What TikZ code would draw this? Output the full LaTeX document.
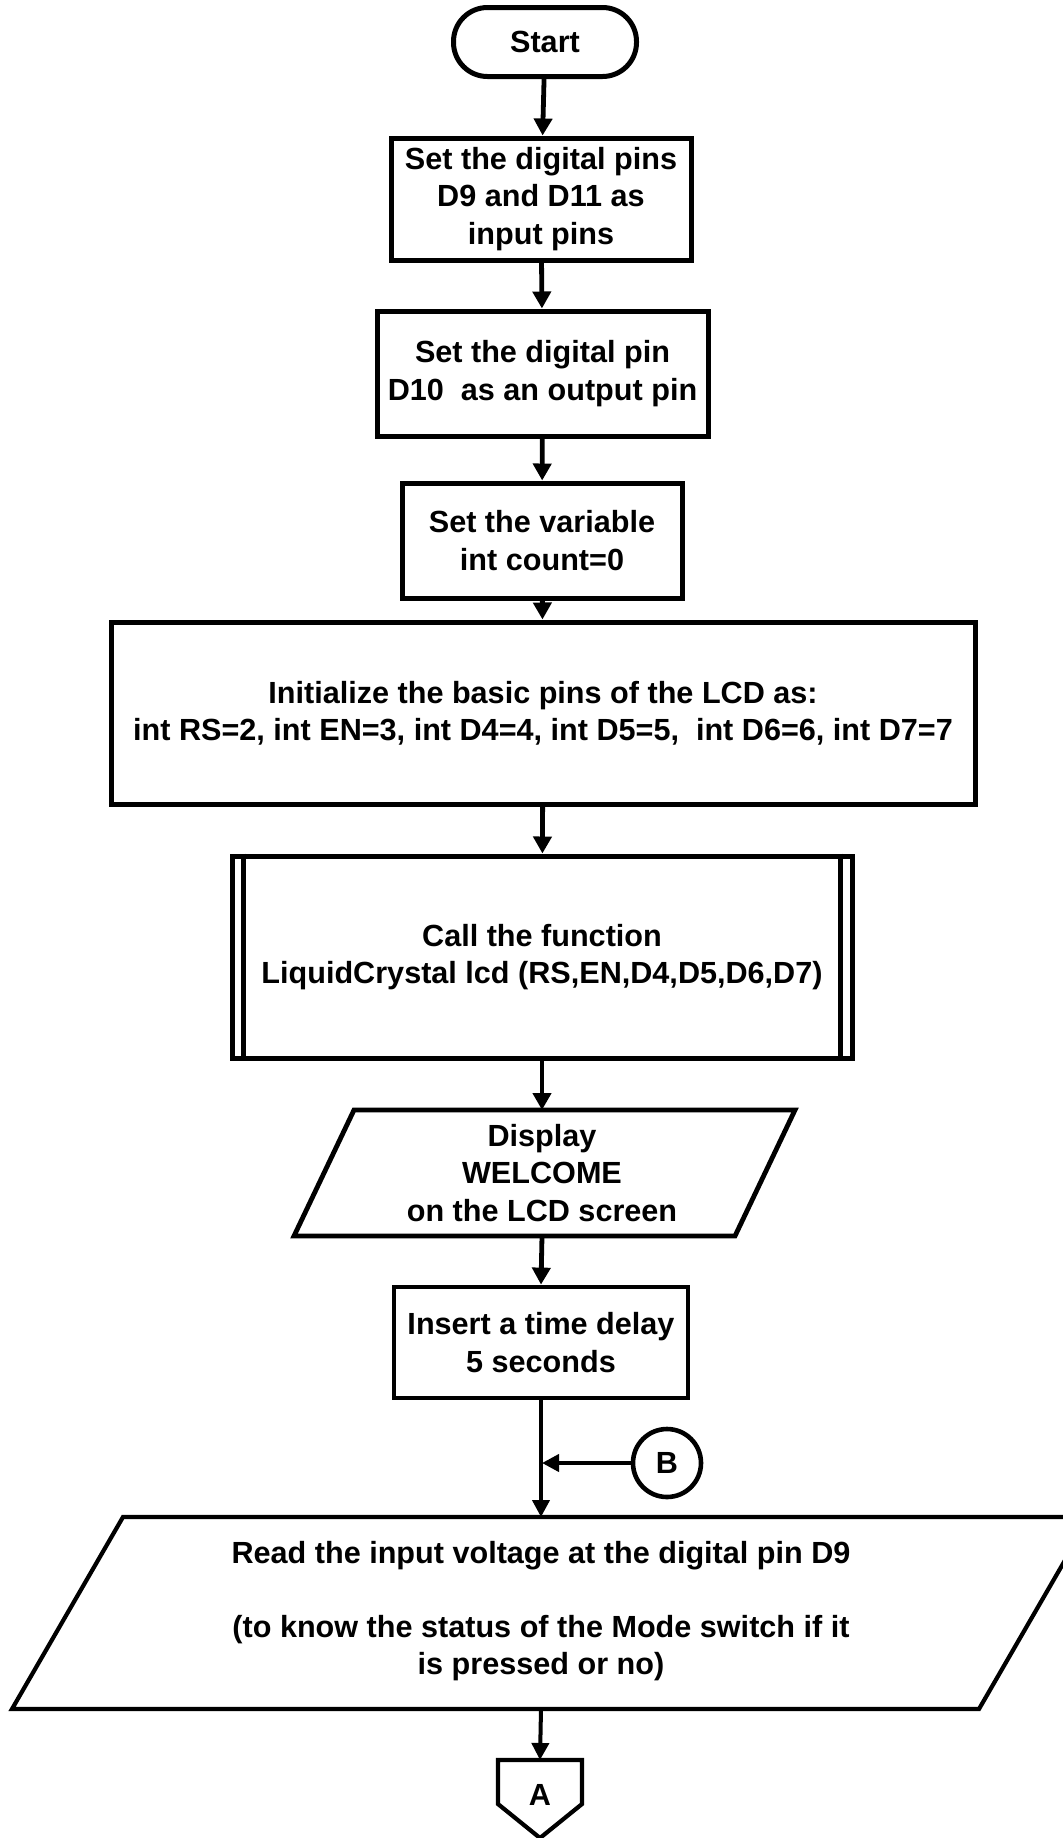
\documentclass[tikz,border=0pt]{standalone}
\usepackage{fontspec}
\setmainfont{Liberation Sans}
\usetikzlibrary{arrows.meta}
\begin{document}
\begin{tikzpicture}[x=0.5pt,y=-0.5pt,
  txt/.style={font=\bfseries\fontsize{15.3}{18.6}\selectfont, align=center, inner sep=0pt},
  boxnode/.style={txt, draw, line width=2.5pt, rectangle},
  lowbox/.style={txt, draw, line width=2.1pt, rectangle},
  conn/.style={line width=2.4pt, -{Triangle[length=8.5pt,width=9pt]}},
  lowconn/.style={line width=2pt, -{Triangle[length=8.5pt,width=8.5pt]}},
  shapeline/.style={line join=miter}]
\useasboundingbox (0,0) rectangle (1063,1838);

% nodes
\node[boxnode, rounded corners=17pt, minimum width=91.5pt, minimum height=34.5pt] (start) at (545,42) {Start};
\node[boxnode, minimum width=150pt, minimum height=61pt] (b1) at (541,199) {Set the digital pins\\D9 and D11 as\\input pins};
\node[boxnode, minimum width=165.5pt, minimum height=62.5pt] (b2) at (542.5,373.5) {Set the digital pin\\D10\ \ as an output pin};
\node[boxnode, minimum width=140pt, minimum height=57.5pt] (b3) at (542,540.5) {Set the variable\\int count=0};
\node[boxnode, minimum width=432pt, minimum height=91pt] (b4) at (543,713) {Initialize the basic pins of the LCD as:\\int RS=2, int EN=3, int D4=4, int D5=5,\ \ int D6=6, int D7=7};
\node[boxnode, minimum width=310pt, minimum height=101pt] (b5) at (542,957) {Call the function\\LiquidCrystal lcd (RS,EN,D4,D5,D6,D7)};
\draw[line width=2.5pt] ([xshift=7pt]b5.north west) -- ([xshift=7pt]b5.south west);
\draw[line width=2.5pt] ([xshift=-7pt]b5.north east) -- ([xshift=-7pt]b5.south east);

% parallelogram 1
\coordinate (p1tl) at (354,1110);
\coordinate (p1tr) at (795,1110);
\coordinate (p1br) at (735,1236);
\coordinate (p1bl) at (294,1236);
\draw[shapeline, line width=2.4pt] (p1tl) -- (p1tr) -- (p1br) -- (p1bl) -- cycle;
\node[txt] (p1) at (542,1173) {Display\\WELCOME\\on the LCD screen};
\coordinate (p1top) at (542,1110);
\coordinate (p1bot) at (542,1236);

\node[lowbox, line width=2.4pt, minimum width=147pt, minimum height=55.5pt] (b6) at (541,1342.5) {Insert a time delay\\5 seconds};

% connector B
\node[txt, draw, circle, line width=2.3pt, minimum size=34pt] (B) at (667,1463) {B};
\coordinate (merge) at (542,1463);

% parallelogram 2
\coordinate (p2tl) at (123,1517);
\coordinate (p2tr) at (1090,1517);
\coordinate (p2br) at (979,1709);
\coordinate (p2bl) at (12,1709);
\draw[shapeline, line width=2.1pt] (p2tl) -- (p2tr) -- (p2br) -- (p2bl) -- cycle;
\node[txt] (p2) at (541,1611) {Read the input voltage at the digital pin D9\\[18.6pt](to know the status of the Mode switch if it\\is pressed or no)};
\coordinate (p2top) at (541,1517);
\coordinate (p2bot) at (541,1709);

% off-page connector A
\coordinate (atl) at (498,1760);
\coordinate (atr) at (582,1760);
\coordinate (amr) at (582,1804);
\coordinate (atip) at (540,1838);
\coordinate (aml) at (498,1804);
\draw[line width=2.1pt, line join=miter] (atl) -- (atr) -- (amr) -- (atip) -- (aml) -- cycle;
\node[txt] (A) at (540,1795) {A};
\coordinate (atop) at (540,1760);

% connectors
\draw[conn] (start) -- (b1);
\draw[conn] (b1) -- (b2);
\draw[conn] (b2) -- (b3);
\draw[conn] (b3) -- (b4);
\draw[conn] (b4) -- (b5);
\draw[conn] (b5.south) -- (p1top);
\draw[conn] (p1bot) -- (b6.north);
\draw[lowconn] (b6.south) -- (p2top);
\draw[lowconn] (B) -- (merge);
\draw[lowconn] (p2bot) -- (atop);
\end{tikzpicture}
\end{document}
